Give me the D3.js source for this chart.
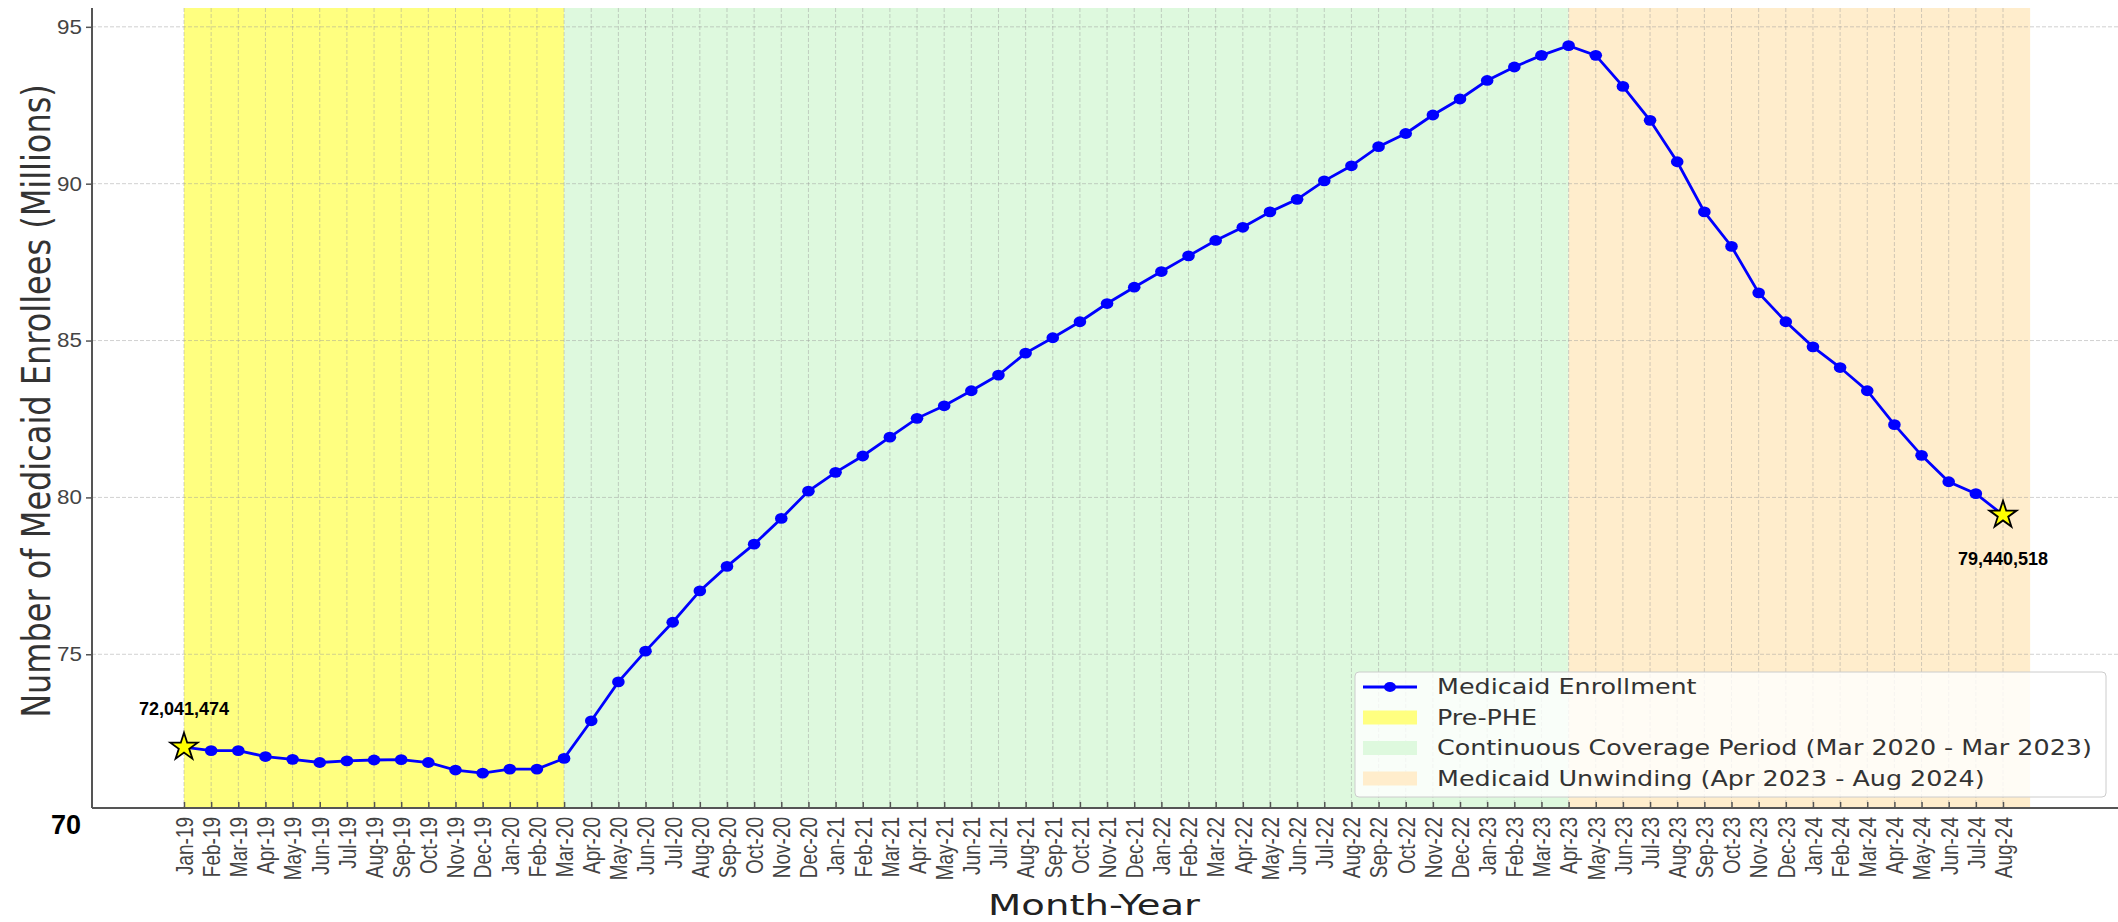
<!DOCTYPE html>
<html lang="en">
<head>
<meta charset="UTF-8">
<title>Medicaid Enrollment</title>
<script src="https://d3js.org/d3.v7.min.js"></script>
<style>
    body { margin: 0; background: #fff; }
    svg { display: block; font-family: "DejaVu Sans", sans-serif; }
    .grid line { stroke: #999; stroke-opacity: 0.45; stroke-width: 1; stroke-dasharray: 4,2; }
    .spine { stroke: #555; stroke-width: 2; }
    .axis text { fill: #444; }
    .axis line { stroke: #555; stroke-width: 1.5; }
    .note { font-family: "Liberation Sans", Arial, sans-serif; font-weight: bold; fill: #000; }
</style>
</head>
<body>
<svg width="2118" height="922"></svg>
<script>
    // month labels, Jan-19 .. Aug-24
    let months = [
        "Jan-19","Feb-19","Mar-19","Apr-19","May-19","Jun-19","Jul-19","Aug-19","Sep-19","Oct-19","Nov-19","Dec-19",
        "Jan-20","Feb-20","Mar-20","Apr-20","May-20","Jun-20","Jul-20","Aug-20","Sep-20","Oct-20","Nov-20","Dec-20",
        "Jan-21","Feb-21","Mar-21","Apr-21","May-21","Jun-21","Jul-21","Aug-21","Sep-21","Oct-21","Nov-21","Dec-21",
        "Jan-22","Feb-22","Mar-22","Apr-22","May-22","Jun-22","Jul-22","Aug-22","Sep-22","Oct-22","Nov-22","Dec-22",
        "Jan-23","Feb-23","Mar-23","Apr-23","May-23","Jun-23","Jul-23","Aug-23","Sep-23","Oct-23","Nov-23","Dec-23",
        "Jan-24","Feb-24","Mar-24","Apr-24","May-24","Jun-24","Jul-24","Aug-24"
    ];
    // enrollees in millions
    let enrollment = [
        72.041474, 71.93, 71.93, 71.74, 71.65, 71.55, 71.60, 71.63, 71.64, 71.55, 71.31, 71.21,
        71.34, 71.34, 71.68, 72.88, 74.12, 75.10, 76.02, 77.02, 77.80, 78.51, 79.33, 80.20,
        80.80, 81.32, 81.92, 82.52, 82.92, 83.40, 83.90, 84.60, 85.09, 85.60, 86.18, 86.70,
        87.20, 87.70, 88.19, 88.61, 89.10, 89.50, 90.09, 90.57, 91.18, 91.60, 92.19, 92.70,
        93.29, 93.72, 94.09, 94.40, 94.09, 93.10, 92.02, 90.70, 89.10, 88.00, 86.52, 85.60,
        84.80, 84.14, 83.40, 82.32, 81.34, 80.50, 80.12, 79.440518
    ];
    let yTicks = [75, 80, 85, 90, 95];

    // shaded periods, as month indexes (end = first month after the period)
    let periodNames = ["Pre-PHE", "Continuous Coverage Period (Mar 2020 - Mar 2023)", "Medicaid Unwinding (Apr 2023 - Aug 2024)"];
    let periodStart = [0, 14, 51];
    let periodEnd = [14, 51, 68];
    let periodColors = ["#ffff80", "#def9de", "#ffedcc"];

    let svg = d3.select("svg");
    let frame = {left: 92, right: 2118, top: 8, bottom: 808};

    let xScale = d3.scaleLinear().domain([0, months.length - 1]).range([184, 2003]);
    let yScale = d3.scaleLinear().domain([70.1, 95.6]).range([frame.bottom, frame.top]);

    // period shading
    svg.append("g").selectAll("rect")
        .data(periodStart)
        .join("rect")
        .attr("x", function (d) { return xScale(d) })
        .attr("y", frame.top)
        .attr("width", function (d, i) { return xScale(periodEnd[i]) - xScale(d) })
        .attr("height", frame.bottom - frame.top)
        .attr("fill", function (d, i) { return periodColors[i] });

    // grid
    let grid = svg.append("g").attr("class", "grid");
    grid.selectAll("line.h").data(yTicks).join("line").attr("class", "h")
        .attr("x1", frame.left).attr("x2", frame.right)
        .attr("y1", function (d) { return yScale(d) }).attr("y2", function (d) { return yScale(d) });
    grid.selectAll("line.v").data(d3.range(months.length)).join("line").attr("class", "v")
        .attr("x1", function (d) { return xScale(d) }).attr("x2", function (d) { return xScale(d) })
        .attr("y1", frame.top).attr("y2", frame.bottom);

    // axes
    let yAxis = svg.append("g")
        .attr("class", "axis")
        .attr("transform", "translate(" + frame.left + ",0)")
        .call(d3.axisLeft(yScale).tickValues(yTicks).tickSize(6).tickPadding(4));
    yAxis.select(".domain").remove();
    yAxis.selectAll("text").style("font-size", "20px").attr("fill", "#555")
        .attr("x", 0).attr("transform", "translate(-10,0) scale(1.12,1)");

    let xAxis = svg.append("g")
        .attr("class", "axis")
        .attr("transform", "translate(0," + frame.bottom + ")")
        .call(d3.axisBottom(xScale)
            .tickValues(d3.range(months.length))
            .tickFormat(function (i) { return months[i] })
            .tickSize(-6));
    xAxis.select(".domain").remove();
    xAxis.selectAll("text")
        .style("font-size", "19px")
        .attr("fill", "#333")
        .attr("transform", "scale(1.25,1) rotate(-90)")
        .attr("text-anchor", "end")
        .attr("x", -9).attr("y", 0).attr("dy", "0.35em");

    svg.append("line").attr("class", "spine")
        .attr("x1", frame.left).attr("x2", frame.left).attr("y1", frame.top).attr("y2", frame.bottom);
    svg.append("line").attr("class", "spine")
        .attr("x1", frame.left).attr("x2", frame.right).attr("y1", frame.bottom).attr("y2", frame.bottom);

    // enrollment line
    let line = d3.line()
        .x(function (d, i) { return xScale(i) })
        .y(function (d) { return yScale(d) });
    svg.append("path").datum(enrollment)
        .attr("d", line)
        .attr("fill", "none").attr("stroke", "blue").attr("stroke-width", 2.8);
    svg.append("g").selectAll("ellipse")
        .data(enrollment).join("ellipse")
        .attr("cx", function (d, i) { return xScale(i) })
        .attr("cy", function (d) { return yScale(d) })
        .attr("rx", 6.3).attr("ry", 5.4).attr("fill", "blue");

    // first / last stars + labels
    let ends = [0, enrollment.length - 1];
    let fmt = d3.format(",");
    let star = d3.symbol().type(d3.symbolStar).size(230);
    svg.append("g").selectAll("path")
        .data(ends).join("path")
        .attr("d", star)
        .attr("transform", function (i) { return "translate(" + xScale(i) + "," + yScale(enrollment[i]) + ")" })
        .attr("fill", "yellow").attr("stroke", "black").attr("stroke-width", 1.8);
    svg.append("g").selectAll("text")
        .data(ends).join("text")
        .attr("class", "note")
        .attr("x", function (i) { return xScale(i) })
        .attr("y", function (i, k) { return yScale(enrollment[i]) + (k === 0 ? -32 : 50) })
        .attr("text-anchor", "middle")
        .style("font-size", "18px")
        .text(function (i) { return fmt(Math.round(enrollment[i] * 1e6)) });

    svg.append("text").attr("class", "note")
        .attr("x", 66).attr("y", 834)
        .attr("text-anchor", "middle")
        .style("font-size", "27px")
        .text("70");

    // axis titles
    svg.append("text")
        .attr("transform", "translate(50,401) scale(1.2,1) rotate(-90)")
        .attr("text-anchor", "middle")
        .attr("fill", "#333")
        .style("font-size", "32px")
        .text("Number of Medicaid Enrollees (Millions)");
    svg.append("text")
        .attr("transform", "translate(1094,915) scale(1.33,1)")
        .attr("text-anchor", "middle")
        .attr("fill", "#222")
        .style("font-size", "29px")
        .text("Month-Year");

    // legend
    let legend = svg.append("g").attr("transform", "translate(1355,672)");
    legend.append("rect")
        .attr("width", 751).attr("height", 125).attr("rx", 4)
        .attr("fill", "#fff").attr("fill-opacity", 0.8)
        .attr("stroke", "#ccc").attr("stroke-width", 1);
    let rowY = function (k) { return 15 + k * 30.5 };
    legend.append("line")
        .attr("x1", 8).attr("x2", 62).attr("y1", rowY(0)).attr("y2", rowY(0))
        .attr("stroke", "blue").attr("stroke-width", 2.8);
    legend.append("ellipse").attr("cx", 35).attr("cy", rowY(0)).attr("rx", 6).attr("ry", 5).attr("fill", "blue");
    legend.selectAll("rect.patch")
        .data(periodColors).join("rect").attr("class", "patch")
        .attr("x", 8).attr("y", function (d, i) { return rowY(i + 1) - 7 })
        .attr("width", 54).attr("height", 14)
        .attr("fill", function (d) { return d });
    legend.selectAll("text")
        .data(["Medicaid Enrollment"].concat(periodNames)).join("text")
        .attr("transform", function (d, i) { return "translate(82," + rowY(i) + ") scale(1.21,1)" })
        .attr("dy", "0.35em")
        .attr("fill", "#333")
        .style("font-size", "21px")
        .text(function (d) { return d });
</script>
</body>
</html>
